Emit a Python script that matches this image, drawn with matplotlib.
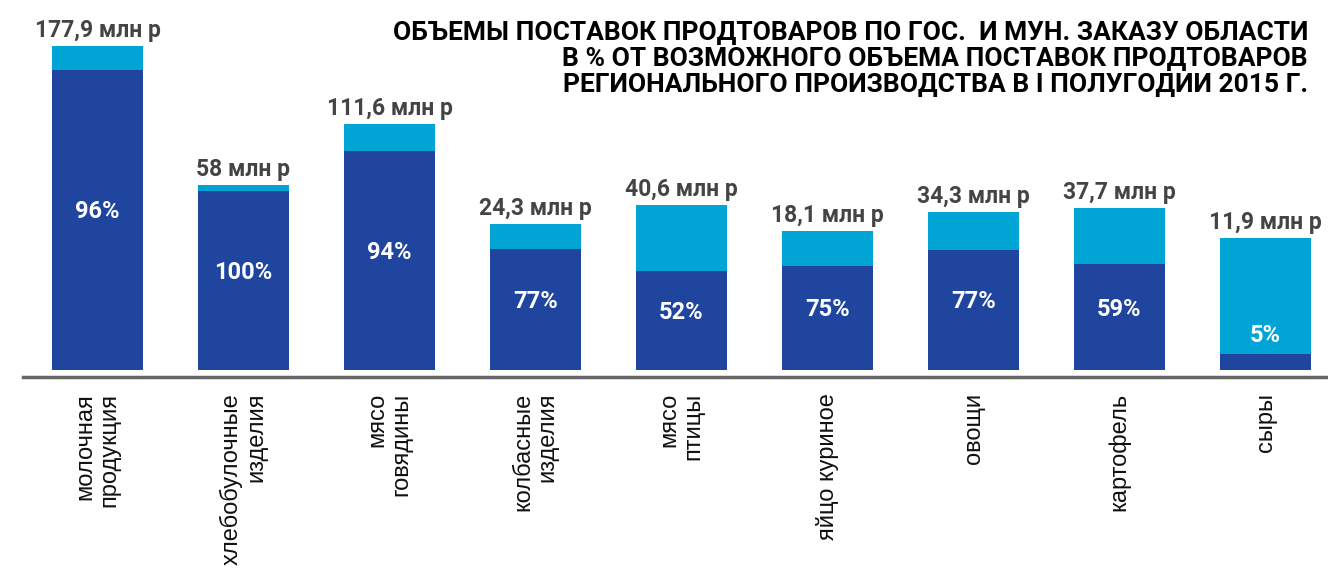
import matplotlib
matplotlib.use("Agg")
import matplotlib.pyplot as plt
import numpy as np

# категории и подписи
categories = ["молочная\nпродукция", "хлебобулочные\nизделия", "мясо\nговядины",
              "колбасные\nизделия", "мясо\nптицы", "яйцо куриное",
              "овощи", "картофель", "сыры"]
volume_labels = ["177,9 млн р", "58 млн р", "111,6 млн р", "24,3 млн р", "40,6 млн р",
                 "18,1 млн р", "34,3 млн р", "37,7 млн р", "11,9 млн р"]
pct_labels = ["96%", "100%", "94%", "77%", "52%", "75%", "77%", "59%", "5%"]

# высоты столбцов (условные единицы, как на картинке)
total_height = [324, 185, 246, 146, 165, 139, 158, 162, 132]
regional_part = [300, 179, 219, 121, 99, 104, 120, 106, 16]

title = ("ОБЪЕМЫ ПОСТАВОК ПРОДТОВАРОВ ПО ГОС.  И МУН. ЗАКАЗУ ОБЛАСТИ\n"
         "В % ОТ ВОЗМОЖНОГО ОБЪЕМА ПОСТАВОК ПРОДТОВАРОВ\n"
         "РЕГИОНАЛЬНОГО ПРОИЗВОДСТВА В I ПОЛУГОДИИ 2015 Г.")

DARK = "#1f459e"
LIGHT = "#00a5d5"

fig = plt.figure(figsize=(13.28, 5.73), dpi=100)
ax = fig.add_axes([0, 0, 1, 1])
ax.set_xlim(-97.5 / 146, (1328 - 97.5) / 146)
ax.set_ylim(-203, 370)
ax.axis("off")

x = np.arange(len(categories))
rest = np.array(total_height) - np.array(regional_part)
ax.bar(x, regional_part, width=0.623, color=DARK)
ax.bar(x, rest, bottom=regional_part, width=0.623, color=LIGHT)

# ось
ax.axhline(-6.5, xmin=23 / 1328, xmax=1, color="#666666", lw=2.5)

for i in range(len(categories)):
    ax.text(x[i], total_height[i] + 9, volume_labels[i], ha="center", va="baseline",
            fontsize=16.5, fontweight="bold", color="#444444", family="Roboto")
    d = regional_part[i]
    ly = d + 18 if d < 40 else d / 2 + 8
    ax.text(x[i], ly, pct_labels[i], ha="center", va="center",
            fontsize=17, fontweight="bold", color="white", family="Roboto")
    ax.text(x[i], -23, categories[i], rotation=90, rotation_mode="anchor",
            ha="right", va="center", multialignment="right", linespacing=1.15,
            fontsize=17, color="#111111", family="Liberation Sans")

fig.text(1308 / 1328, 1 - 21 / 573, title, ha="right", va="top", linespacing=1.1,
         fontsize=19, fontweight="bold", color="black", family="Roboto")

fig.savefig("out.png", dpi=100)
